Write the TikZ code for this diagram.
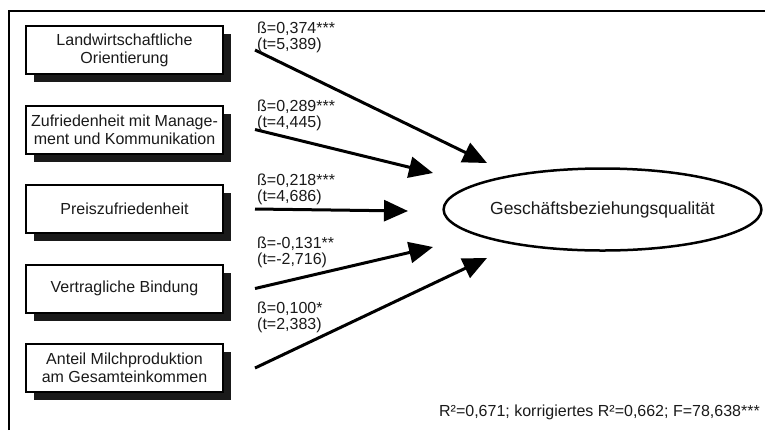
\documentclass[tikz,border=0pt]{standalone}
\usepackage{fontspec}
\setmainfont{Liberation Sans}
\usetikzlibrary{positioning,shadows,arrows.meta,shapes.geometric}

\definecolor{rahmenColor}{RGB}{0,0,0}
\definecolor{schattenColor}{RGB}{26,26,26}
\definecolor{textColor}{RGB}{26,26,26}

\begin{document}
\begin{tikzpicture}[x=1bp, y=-1bp, text=textColor,
font=\fontsize{16bp}{18bp}\selectfont,
node distance=29.5bp,
faktor/.style={
    draw, line width=2bp, fill=white,
    minimum width=197bp, minimum height=48bp,
    inner sep=0pt, align=center,
    drop shadow={
        shadow xshift=8bp, shadow yshift=-8bp,
        fill=schattenColor, opacity=1}
},
ziel/.style={
    draw, ellipse, line width=2.5bp,
    minimum width=316bp, minimum height=82bp, inner sep=0pt,
    font=\fontsize{17.5bp}{20bp}\selectfont
},
pfad/.style={
    line width=3bp, -{Triangle[length=24bp, width=21bp]}
},
koeff/.style={
    anchor=west, align=left, inner sep=0pt,
    font=\fontsize{16bp}{16bp}\selectfont
}]

\useasboundingbox (0,0) rectangle (765,430);

\draw[rahmenColor, line width=2bp] (9,430) -- (9,11) -- (765,11);

\node[faktor] (orient) at (124.5,50) {Landwirtschaftliche\\Orientierung};
\node[faktor, below=of orient] (mgmt) {Zufriedenheit mit Manage-\\ment und Kommunikation};
\node[faktor, below=of mgmt] (preis) {Preiszufriedenheit};
\node[faktor, below=of preis] (bindung) {Vertragliche Bindung};
\node[faktor, below=of bindung] (anteil) {Anteil Milchproduktion\\am Gesamteinkommen};

\node[ziel] (gbq) at (602.5,209.5) {Geschäftsbeziehungsqualität};

\coordinate (ende1) at (487,163);
\coordinate (ende2) at (433,173);
\coordinate (ende3) at (408,211);
\coordinate (ende4) at (433,247);
\coordinate (ende5) at (487,258);

\foreach \from/\to in {orient/ende1, mgmt/ende2, preis/ende3, bindung/ende4, anteil/ende5}
    \draw[pfad] ([xshift=31bp]\from.east) -- (\to);

\node[koeff] (koeff1) at (257,37.5) {ß=0,374***\\(t=5,389)};
\node[koeff] (koeff2) at (257,115.5) {ß=0,289***\\(t=4,445)};
\node[koeff] (koeff3) at (257,189.5) {ß=0,218***\\(t=4,686)};
\node[koeff] (koeff4) at (257,252.5) {ß=-0,131**\\(t=-2,716)};
\node[koeff] (koeff5) at (257,317.5) {ß=0,100*\\(t=2,383)};

\node[anchor=east, inner sep=0pt] (guete) at (760,412)
    {R²=0,671; korrigiertes R²=0,662; F=78,638***};

\end{tikzpicture}
\end{document}
